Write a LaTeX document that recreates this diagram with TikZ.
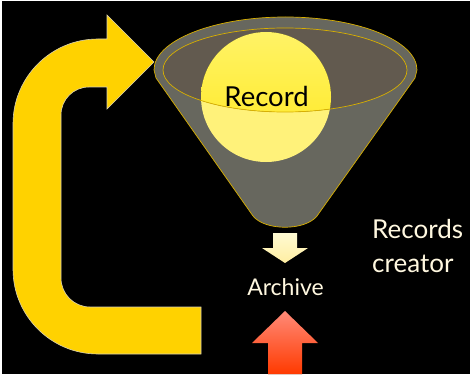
\documentclass[tikz,border=0pt]{standalone}
\usepackage{fontspec}
\setmainfont{Lato}
\definecolor{yarrow}{HTML}{FFD200}
\definecolor{yedge}{HTML}{D8D0B0}
\definecolor{funbody}{HTML}{67675E}
\definecolor{funin}{HTML}{625A4F}
\definecolor{gold}{HTML}{D9B000}
\definecolor{recpale}{HTML}{FFF27A}
\definecolor{rectop}{HTML}{FFF366}
\definecolor{recmid}{HTML}{FFE81C}
\definecolor{cream}{HTML}{FFF8E0}
\definecolor{smtop}{HTML}{FFFAD2}
\definecolor{smbot}{HTML}{FFEEA2}
\definecolor{redtop}{HTML}{FF8A78}
\definecolor{redbot}{HTML}{FF3A00}
\tikzset{
  outline/.style={draw=gold, line width=0.7pt},
  lbl/.style={inner sep=0pt, text=cream},
}
\begin{document}
\begin{tikzpicture}[x=1pt,y=-1pt]
\useasboundingbox (0,0) rectangle (470,374);
\fill[white] (0,0) rectangle (470,374);
\fill[black] (2,1) rectangle (470,374);
% yellow loop arrow
\fill[yarrow, draw=yedge, line width=0.6pt]
  (201,354) -- (201,307) -- (90,307)
  .. controls (74,307) and (61,294) .. (61,278)
  -- (61,115) .. controls (61,99.5) and (73.5,87) .. (89,87)
  -- (107,87) -- (107,109) -- (154,62) -- (107,15) -- (107,39) -- (98,39)
  .. controls (51,39) and (13,77) .. (13,124)
  -- (13,269) .. controls (13,316) and (51,354) .. (98,354) -- cycle;
% funnel body
\fill[funbody] (154,70) arc[start angle=180, end angle=0, x radius=131.5pt, y radius=53pt]
  -- (415,78) -- (317,216) .. controls (305,231) and (265,231) .. (253,216) -- (156,78) -- cycle;
\draw[outline] (154,70) arc[start angle=180, end angle=0, x radius=131.5pt, y radius=53pt]
  -- (415,78) -- (317,216) .. controls (305,231) and (265,231) .. (253,216) -- (156,78) -- cycle;
% inner rim
\fill[funin] (285,70) ellipse (122pt and 42pt);
% record ball
\fill[recpale] (266,97) circle (65pt);
\begin{scope}
  \clip (285,70) ellipse (122pt and 42pt);
  \fill[top color=rectop, bottom color=recmid] (266,97) circle (65pt);
\end{scope}
\draw[outline] (285,70) ellipse (122pt and 42pt);
\node[inner sep=0pt, anchor=base, text=black, font=\fontsize{27.5}{27.5}\selectfont] (rec) at (266.5,107) {Record};
% small cream arrow
\fill[top color=smtop, bottom color=smbot]
  (273,233) -- (297,233) -- (297,248) -- (308,248) -- (285,263) -- (262,248) -- (273,248) -- cycle;
% red arrow
\fill[top color=redtop, bottom color=redbot]
  (285,311) -- (318,343) -- (302,343) -- (302,374) -- (268,374) -- (268,343) -- (252,343) -- cycle;
% labels
\node[lbl, anchor=base, font=\fontsize{23}{23}\selectfont] (arch) at (285.5,295) {Archive};
\node[lbl, anchor=base west, font=\fontsize{26}{26}\selectfont] (rc1) at (372,238) {Records};
\node[lbl, anchor=base west, font=\fontsize{26}{26}\selectfont] (rc2) at (372,272) {creator};
\end{tikzpicture}
\end{document}
